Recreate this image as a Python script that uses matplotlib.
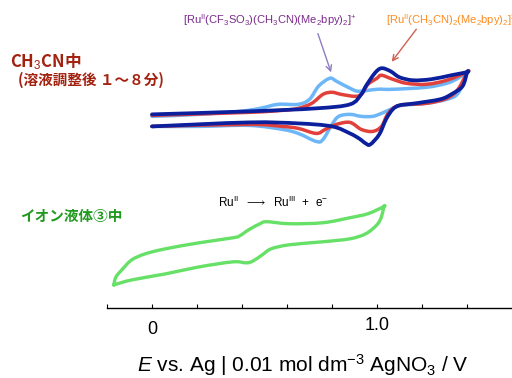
import numpy as np
import matplotlib
matplotlib.use("Agg")
import matplotlib.pyplot as plt
from matplotlib.path import Path
from matplotlib.patches import PathPatch
from matplotlib.transforms import blended_transform_factory

plt.rcParams['mathtext.fontset'] = 'custom'
plt.rcParams['mathtext.rm'] = 'Liberation Sans'
plt.rcParams['mathtext.it'] = 'Liberation Sans:italic'
plt.rcParams['mathtext.bf'] = 'Liberation Sans:bold'

# ---- CV data in CH3CN (E / V, current / a.u.) ----
# light blue (earliest), forward then reverse sweep
lb_fwd_E = [0, 0.21, 0.39, 0.48, 0.56, 0.65, 0.70, 0.74, 0.79, 0.82, 0.88, 0.92, 1.00, 1.07, 1.22, 1.31, 1.36, 1.40]
lb_fwd_i = [0.4, 0.6, 0.9, 1.2, 1.6, 1.6, 2.1, 3.4, 4.2, 3.9, 3.2, 2.9, 3.1, 3.1, 3.3, 3.7, 4.2, 4.8]
lb_rev_E = [1.40, 1.36, 1.31, 1.22, 1.11, 1.07, 1.02, 0.98, 0.93, 0.88, 0.83, 0.80, 0.76, 0.73, 0.65, 0.58, 0.43, 0.21, 0]
lb_rev_i = [4.7, 2.7, 2.1, 1.7, 1.5, 1.2, 0.7, 0.4, 0.4, 0.6, 0.4, -0.4, -1.9, -2.1, -1.3, -0.9, -0.5, -0.6, -0.6]

# red
rd_fwd_E = [0, 0.43, 0.58, 0.65, 0.71, 0.76, 0.80, 0.84, 0.90, 0.93, 0.96, 1.00, 1.02, 1.07, 1.13, 1.22, 1.31, 1.40]
rd_fwd_i = [0.5, 0.8, 1.0, 1.2, 1.7, 2.6, 2.8, 2.6, 2.4, 2.6, 3.6, 4.2, 4.5, 4.1, 3.7, 3.6, 4.0, 4.8]
rd_rev_E = [1.40, 1.36, 1.31, 1.22, 1.10, 1.05, 1.02, 0.98, 0.93, 0.88, 0.82, 0.77, 0.73, 0.65, 0.58, 0.43, 0]
rd_rev_i = [4.8, 3.1, 2.2, 1.7, 1.5, 0.7, -0.6, -1.1, -0.9, -0.2, -0.4, -0.9, -1.3, -0.8, -0.6, -0.4, -0.6]

# dark blue (latest)
db_fwd_E = [0, 0.43, 0.73, 0.88, 0.93, 0.95, 0.99, 1.02, 1.06, 1.10, 1.16, 1.24, 1.33, 1.40]
db_fwd_i = [0.6, 0.9, 1.2, 1.6, 2.6, 3.4, 4.7, 5.2, 4.9, 4.3, 4.0, 4.1, 4.5, 4.8]
db_rev_E = [1.40, 1.38, 1.33, 1.28, 1.17, 1.10, 1.07, 1.04, 1.01, 0.97, 0.95, 0.92, 0.88, 0.80, 0.65, 0.43, 0]
db_rev_i = [4.8, 3.4, 2.6, 2.1, 1.7, 1.5, 1.1, 0.1, -1.4, -2.4, -2.3, -1.8, -1.3, -0.6, -0.3, -0.2, -0.6]

# ---- CV data in ionic liquid ----
il_fwd_E = [-0.17, -0.16, -0.13, -0.09, -0.03, 0.06, 0.21, 0.36, 0.39, 0.43, 0.48, 0.51, 0.61, 0.76, 0.88, 0.96, 1.03]
il_fwd_i = [-3.3, -2.5, -1.7, -0.8, -0.2, 0.3, 0.9, 1.4, 1.6, 2.2, 2.8, 3.0, 2.8, 2.9, 3.4, 3.8, 4.5]
il_rev_E = [1.03, 1.02, 1.00, 0.95, 0.88, 0.76, 0.61, 0.53, 0.49, 0.45, 0.42, 0.36, 0.21, 0.06, -0.09, -0.17]
il_rev_i = [4.5, 3.5, 2.7, 1.8, 1.3, 1.0, 0.7, 0.3, -0.3, -0.9, -1.1, -1.0, -1.5, -2.2, -2.8, -3.3]

ch3cn_offset = 18.8
il_offset = 5.7

W, H = 512, 378
fig = plt.figure(figsize=(W / 100, H / 100), dpi=100)


def fpos(x, y):
    return x / W, 1 - y / H


ax = fig.add_axes([107 / W, (H - 308) / H, 1 - 107 / W, 308 / H])
ax.set_xlim(-0.2, 1.6)
ax.set_ylim(0.1, 30.8)


def smooth_path(pts):
    # cubic bezier through the read points (Catmull-Rom control points)
    p = np.vstack([pts[0], pts, pts[-1]])
    verts = [pts[0]]
    codes = [Path.MOVETO]
    for k in range(1, len(p) - 2):
        c1 = p[k] + (p[k + 1] - p[k - 1]) / 6
        c2 = p[k + 1] - (p[k + 2] - p[k]) / 6
        verts += [c1, c2, p[k + 1]]
        codes += [Path.CURVE4] * 3
    return Path(verts, codes)


def cv(E1, i1, E2, i2, off, color, lw):
    # draw in display space so the curve shape is not distorted by axis scaling
    pts = np.column_stack([E1 + E2, np.array(i1 + i2) + off])
    disp = ax.transData.transform(pts)
    patch = PathPatch(smooth_path(disp), facecolor='none', edgecolor=color, lw=lw,
                      joinstyle='round', capstyle='round', transform=None)
    ax.add_artist(patch)
    ax.plot(pts[:, 0], pts[:, 1], lw=0)  # register data with the axes


cv(lb_fwd_E, lb_fwd_i, lb_rev_E, lb_rev_i, ch3cn_offset, '#6db6f7', 2.5)
cv(rd_fwd_E, rd_fwd_i, rd_rev_E, rd_rev_i, ch3cn_offset, '#e2403a', 2.5)
cv(db_fwd_E, db_fwd_i, db_rev_E, db_rev_i, ch3cn_offset, '#0c1f9c', 2.7)
cv(il_fwd_E, il_fwd_i, il_rev_E, il_rev_i, il_offset, '#66e066', 2.4)

for s in ['left', 'top', 'right']:
    ax.spines[s].set_visible(False)
ax.spines['bottom'].set_linewidth(1.0)
ax.set_yticks([])
ticks = [-0.2, 0, 0.2, 0.4, 0.6, 0.8, 1.0, 1.2, 1.4]
ax.set_xticks(ticks)
ax.set_xticklabels([])
ax.tick_params(axis='x', direction='in', length=3, width=0.8)

trans = blended_transform_factory(ax.transData, fig.transFigure)
ax.text(0, fpos(0, 330)[1], '0', transform=trans, ha='center', va='center',
        fontsize=13, family='Liberation Sans')
ax.text(1.0, fpos(0, 325)[1], '1.0', transform=trans, ha='center', va='center',
        fontsize=13, family='Liberation Sans')

fig.text(*fpos(303, 365), r"$\it{E}$ vs. Ag | 0.01 mol dm$^{-3}$ AgNO$_3$ / V",
         ha='center', va='center', fontsize=15, family='Liberation Sans')

jp = ['Noto Sans CJK JP', 'DejaVu Sans']
fig.text(*fpos(10, 62), r"CH$_3$CN中", ha='left', va='center', fontsize=12,
         color='#a3210f', family=jp, fontweight='bold')
fig.text(*fpos(18, 80), "(溶液調整後 １～８分)", ha='left', va='center', fontsize=10.5,
         color='#a3210f', family=jp, fontweight='bold')
fig.text(*fpos(20, 216), "イオン液体③中", ha='left', va='center', fontsize=10.5,
         color='#1f9a1f', family=jp, fontweight='bold')

fig.text(*fpos(183, 20), r"[Ru$^{\mathrm{II}}$(CF$_3$SO$_3$)(CH$_3$CN)(Me$_2$bpy)$_2$]$^{+}$",
         ha='left', va='center', fontsize=8, color='#7b2a8c', family='Liberation Sans')
fig.text(*fpos(386, 20), r"[Ru$^{\mathrm{II}}$(CH$_3$CN)$_2$(Me$_2$bpy)$_2$]$^{2+}$",
         ha='left', va='center', fontsize=8, color='#ff8a1c', family='Liberation Sans')
fig.text(*fpos(218, 202), r"Ru$^{\mathrm{II}}$  $\longrightarrow$  Ru$^{\mathrm{III}}$  +  e$^{-}$",
         ha='left', va='center', fontsize=8.5, color='black', family='Liberation Sans')

ax.annotate('', xy=fpos(332, 75), xytext=fpos(317, 31), xycoords='figure fraction',
            textcoords='figure fraction',
            arrowprops=dict(arrowstyle='->', color='#8f7cc2', lw=1.0))
ax.annotate('', xy=fpos(390, 64), xytext=fpos(418, 27), xycoords='figure fraction',
            textcoords='figure fraction',
            arrowprops=dict(arrowstyle='->', color='#d0604f', lw=1.0))

fig.savefig('out.png', dpi=100)
